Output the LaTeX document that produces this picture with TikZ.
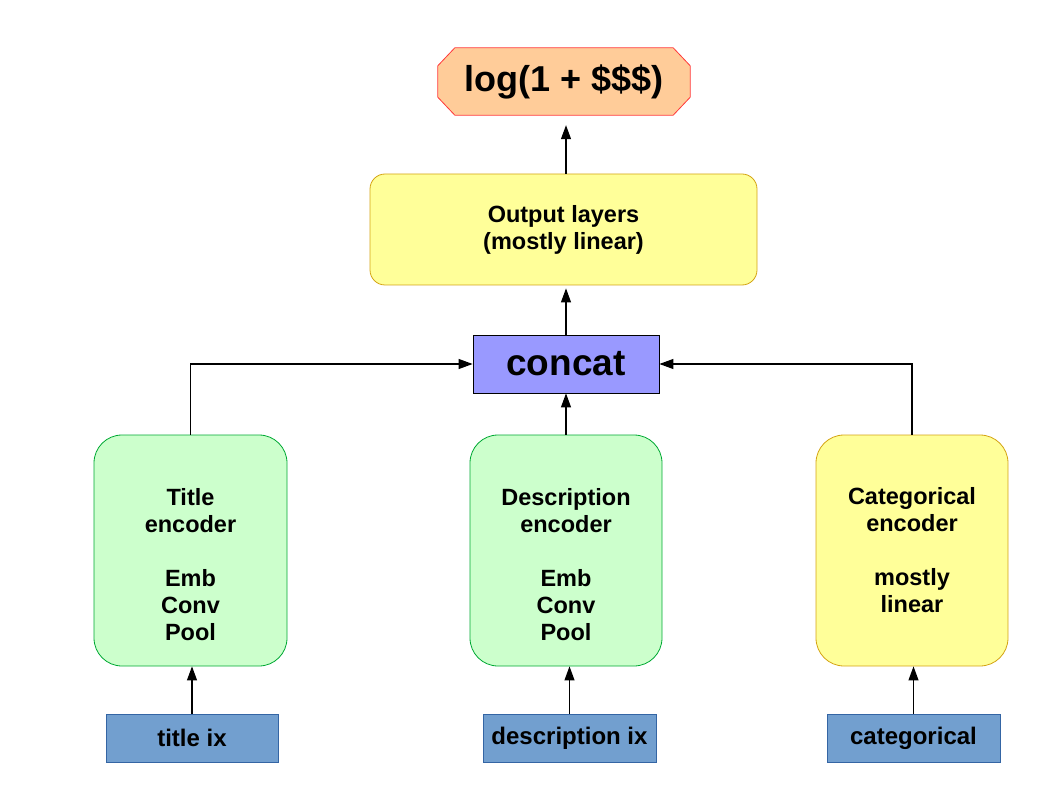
\documentclass[tikz,border=0pt]{standalone}
\usepackage{fontspec}
\setmainfont{Liberation Sans}
\usetikzlibrary{arrows.meta,calc}
\definecolor{peach}{HTML}{FFCC99}
\definecolor{peachborder}{HTML}{FF3838}
\definecolor{lyellow}{HTML}{FFFF99}
\definecolor{yborder}{HTML}{D4A414}
\definecolor{lgreen}{HTML}{CCFFCC}
\definecolor{gborder}{HTML}{00A933}
\definecolor{lviolet}{HTML}{9999FF}
\definecolor{inblue}{HTML}{729FCF}
\definecolor{inborder}{HTML}{3465A4}
\begin{document}
\begin{tikzpicture}[x=1pt,y=-1pt,
  every node/.style={font=\bfseries},
  txt/.style={align=center,font=\bfseries\fontsize{23.5}{27}\selectfont},
  outbox/.style={draw=yborder,fill=lyellow,rounded corners=15pt,minimum width=387pt,minimum height=111pt,line width=0.8pt},
  concatbox/.style={draw=black,fill=lviolet,minimum width=186pt,minimum height=58pt,line width=0.8pt,font=\bfseries\fontsize{37}{40}\selectfont},
  encg/.style={draw=gborder,fill=lgreen,rounded corners=28pt,minimum width=193pt,minimum height=231pt,line width=0.8pt},
  ency/.style={draw=yborder,fill=lyellow,rounded corners=28pt,minimum width=192pt,minimum height=231pt,line width=0.8pt},
  inbox/.style={draw=inborder,fill=inblue,minimum width=173pt,minimum height=48pt,line width=0.8pt,font=\bfseries\fontsize{24}{27}\selectfont},
  conn/.style={draw=black,line width=1.1pt,-{Triangle[length=14pt,width=10pt]}}
]
\useasboundingbox (0,0) rectangle (1058,794);

% output octagon
\node[minimum width=252pt,minimum height=67pt,inner sep=0pt] (log) at (564,81.5) {};
\filldraw[fill=peach,draw=peachborder,line width=0.8pt]
  ($(log.north west)+(17,0)$) -- ($(log.north east)+(-17,0)$) -- ($(log.north east)+(0,18)$)
  -- ($(log.south east)+(0,-18)$) -- ($(log.south east)+(-17,0)$) -- ($(log.south west)+(17,0)$)
  -- ($(log.south west)+(0,-18)$) -- ($(log.north west)+(0,18)$) -- cycle;
\node[font=\bfseries\fontsize{36}{40}\selectfont] (logtxt) at (log.center) {log(1 + \$\$\$)};

\node[outbox,txt] (out) at (563.5,229.5) {Output layers\\(mostly linear)};
\node[concatbox] (concat) at (566,364) {concat};

\node[encg] (te) at (190.5,550.5) {};
\node[txt] (tetxt) at ([yshift=-14pt]te.center) {Title\\encoder\\[27pt]Emb\\Conv\\Pool};
\node[encg,minimum width=192pt] (de) at (566,550.5) {};
\node[txt] (detxt) at ([yshift=-14pt]de.center) {Description\\encoder\\[27pt]Emb\\Conv\\Pool};
\node[ency,txt] (ce) at (912,550.5) {Categorical\\encoder\\[27pt]mostly\\linear};

\node[inbox,minimum width=172pt] (ti) at (192,738) {title ix};
\node[inbox] (di) at (569.5,738) {description ix};
\node[inbox] (ci) at (913.5,738) {categorical};

% connectors
\draw[conn] (ti.north) -- (ti.north |- te.south);
\draw[conn] (di.north) -- (di.north |- de.south);
\draw[conn] (ci.north) -- (ci.north |- ce.south);
\draw[conn] (te.north) |- (concat.west);
\draw[conn] (ce.north) |- (concat.east);
\draw[conn] (de.north) -- (concat.south);
\draw[conn,shorten >=3pt] (concat.north) -- (out.south -| concat.north);
\draw[conn,shorten >=10pt] (out.north -| concat.north) -- (log.south -| concat.north);
\end{tikzpicture}
\end{document}
